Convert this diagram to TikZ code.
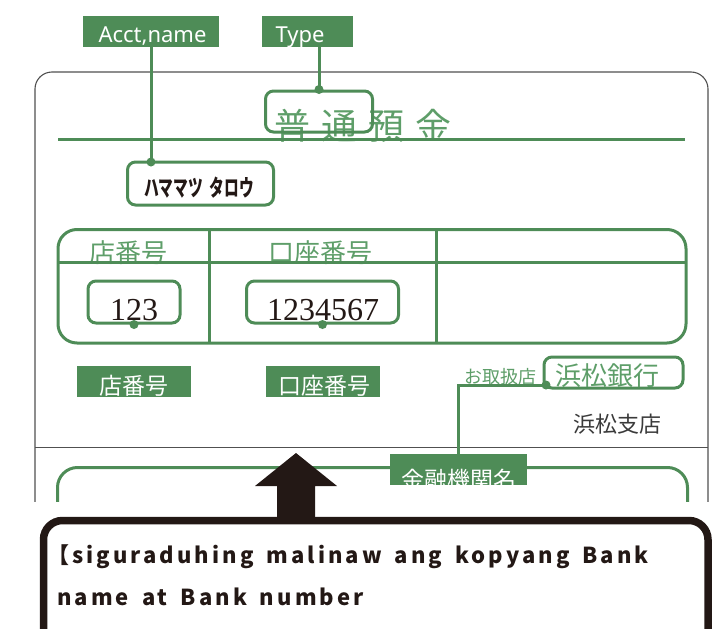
\documentclass[tikz,border=0pt]{standalone}
\usepackage{fontspec}
\setmainfont{Liberation Serif}
\newfontfamily\jp{Noto Sans CJK JP}
\newfontfamily\labfont{Noto Sans}
\newfontfamily\notefont{Noto Sans CJK JP}[LetterSpace=14,WordSpace=1.6]
\definecolor{gr}{HTML}{4E8C57}
\definecolor{lgr}{HTML}{5E9E69}
\definecolor{cardgray}{HTML}{505050}
\definecolor{blk}{HTML}{231815}
\definecolor{dgray}{HTML}{3A3A3A}
\begin{document}
\begin{tikzpicture}[x=1pt,y=-1pt,
  gline/.style={draw=gr, line width=3pt},
  gbox/.style={draw=gr, line width=3pt, rounded corners=8pt, inner sep=0pt},
  glabel/.style={fill=gr, inner sep=0pt},
  labtxt/.style={text=white, inner sep=0pt, anchor=base},
  jplab/.style={labtxt, font=\jp\fontsize{23}{23}\selectfont},
  lgtxt/.style={text=lgr, inner sep=0pt, anchor=base},
  numtxt/.style={text=blk, inner sep=0pt, anchor=base, font=\fontsize{32}{32}\selectfont},
  gdot/.style={circle, fill=gr, inner sep=0pt, minimum size=9pt},
  cardline/.style={draw=cardgray, line width=1.1pt},
  notetxt/.style={text=blk, inner sep=0pt, anchor=base west, font=\notefont\bfseries\fontsize{22}{22}\selectfont}]
\useasboundingbox (0,0) rectangle (713,629);

% card, cut off at the bottom
\begin{scope}
\clip (0,0) rectangle (713,501);
\draw[cardline, rounded corners=17pt] (35,72) rectangle (708,620);
\draw[cardline] (35,447.5) -- (708,447.5);
\draw[gline, rounded corners=20pt] (57.5,467.5) rectangle (687.5,620);
\end{scope}

% top labels
\node[glabel, minimum width=136pt, minimum height=31pt] (acct) at (151,31.5) {};
\node[labtxt, font=\labfont\fontsize{22}{22}\selectfont] (accttxt) at (152.5,42) {Acct,name};
\node[glabel, minimum width=91pt, minimum height=31pt] (typelab) at (307.5,31.5) {};
\node[labtxt, font=\labfont\fontsize{22}{22}\selectfont] (typetxt) at (300,42) {Type};

% title
\node[lgtxt, font=\jp\fontsize{36}{36}\selectfont] (title) at (363,139) {普\hspace{11pt}通\hspace{11pt}預\hspace{11pt}金};
\draw[gline] (58,139) -- (685,139);
\node[gbox, minimum width=107pt, minimum height=41pt] (typebox) at (319,111.5) {};

% name
\node[gbox, minimum width=146pt, minimum height=43pt] (namebox) at (200.5,183.5) {};
\node[text=blk, inner sep=0pt, font=\jp\bfseries\fontsize{23}{23}\selectfont] (nametxt) at (199,188) {\scalebox{0.64}[1]{ハママツ\hspace{0.45em}タロウ}};

% connectors from top labels
\draw[gline] (acct.south -| 151,0) -- (151,162);
\node[gdot] (acctdot) at (151,162) {};
\draw[gline] (typebox.north |- typelab.south) -- (typebox.north);
\node[gdot] (typedot) at (typebox.north) {};

% table
\node[lgtxt, font=\jp\fontsize{26}{26}\selectfont] (hbranch) at (128,262) {店番号};
\node[lgtxt, font=\jp\fontsize{26}{26}\selectfont] (haccount) at (320,262) {口座番号};
\draw[gline, rounded corners=19pt] (58,229.5) rectangle (686,343);
\draw[gline] (58,262) -- (686,262);
\draw[gline] (209,229.5) -- (209,343);
\draw[gline] (436.5,229.5) -- (436.5,343);

\node[gbox, minimum width=92pt, minimum height=42pt] (brbox) at (134,302) {};
\node[numtxt] (brnum) at (134,320) {123};
\node[gdot] (brdot) at (brbox.south) {};
\node[gbox, minimum width=152pt, minimum height=42pt] (acbox) at (322.5,302) {};
\node[numtxt] (acnum) at (323,320) {1234567};
\node[gdot] (acdot) at (acbox.south) {};

% lower labels
\node[glabel, minimum width=114pt, minimum height=31pt] (brlab) at (133.5,381.5) {};
\node[jplab] (brlabtxt) at (133.5,394) {店番号};
\node[glabel, minimum width=114pt, minimum height=31pt] (aclab) at (323,381.5) {};
\node[jplab] (aclabtxt) at (324,394) {口座番号};

% bank
\node[lgtxt, font=\jp\fontsize{18}{18}\selectfont] (toriatsukai) at (500,383) {お取扱店};
\node[gbox, minimum width=139pt, minimum height=31pt] (bankbox) at (613.5,372.5) {};
\node[lgtxt, font=\jp\fontsize{26}{26}\selectfont] (banktxt) at (607,385.5) {浜松銀行};
\coordinate (bankdot) at (546,385);
\node[text=dgray, inner sep=0pt, anchor=base, font=\jp\fontsize{22}{22}\selectfont] (branchtxt) at (617,432) {浜松支店};

\node[glabel, minimum width=137pt, minimum height=31pt] (kinyu) at (458.5,469.5) {};
\begin{scope}
\clip (kinyu.north west) rectangle (kinyu.south east);
\node[jplab] (kinyutxt) at (458.5,488) {金融機関名};
\end{scope}
\draw[gline] (bankdot) -| (kinyu.north);
\node[gdot] (bankdotmark) at (bankdot) {};

% arrow and note
\fill[blk] (296,453) -- (337,486) -- (315,486) -- (315,520) -- (277,520) -- (277,486) -- (255,486) -- cycle;
\node[draw=blk, line width=7.5pt, rounded corners=19pt, minimum width=664.5pt, minimum height=160pt, anchor=north west, inner sep=0pt] (notebox) at (39.75,516.75) {};
\node[notetxt] (note1) at (47,563) {【siguraduhing malinaw ang kopyang Bank};
\node[notetxt] (note2) at (57,605) {name at Bank number};
\end{tikzpicture}
\end{document}
